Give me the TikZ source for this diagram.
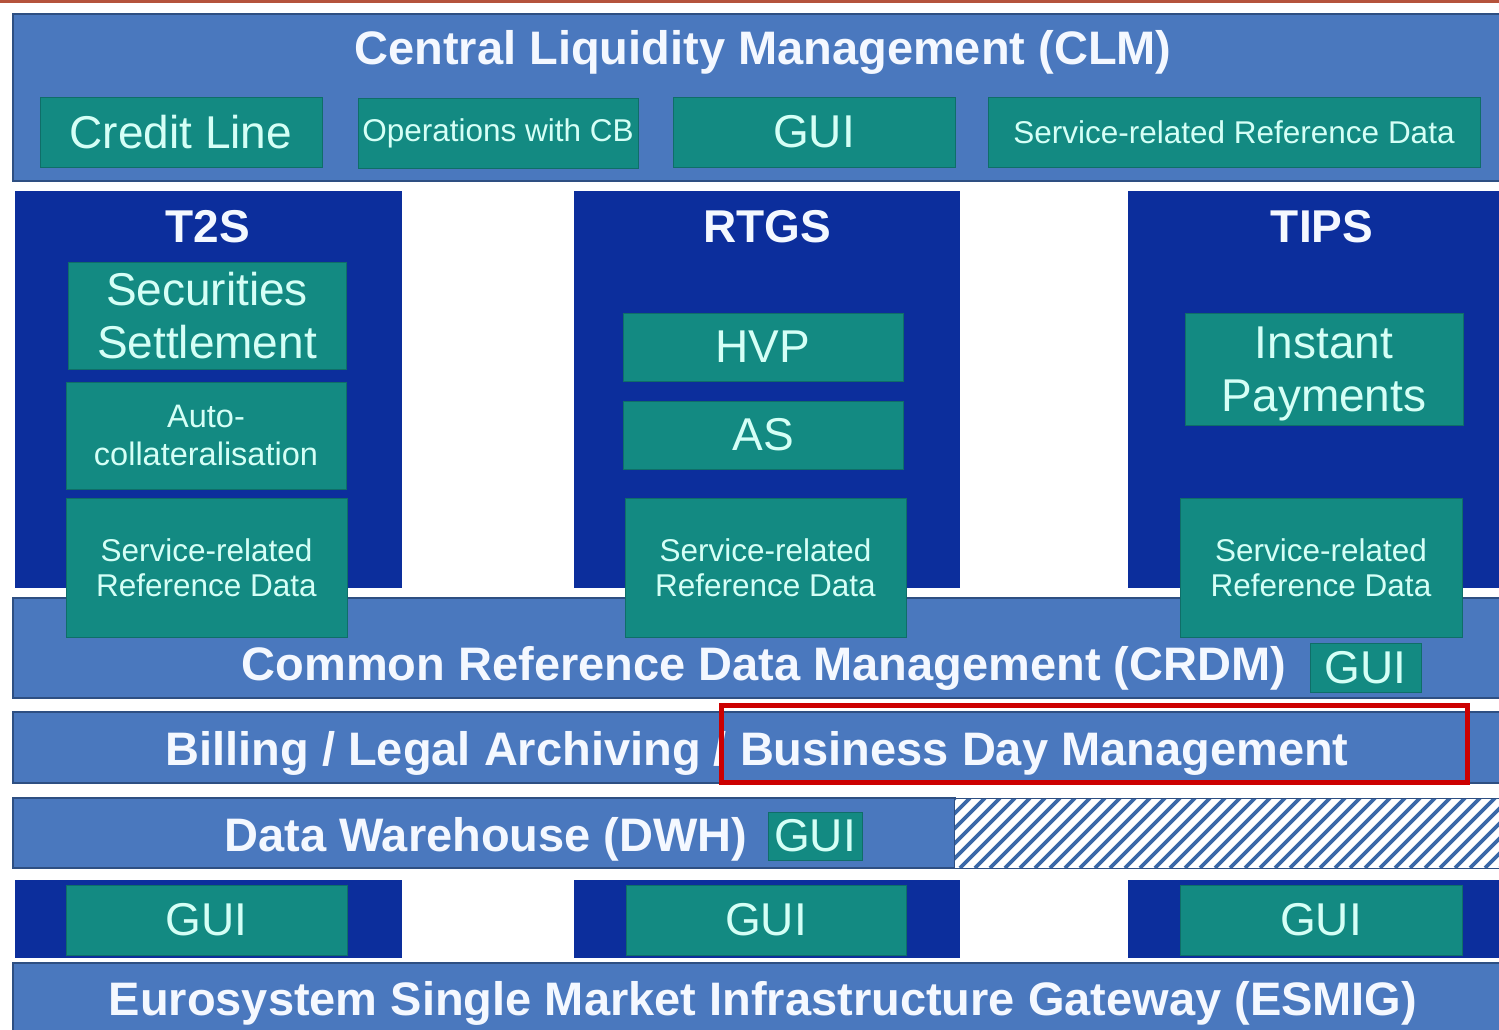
\documentclass[tikz,border=0pt]{standalone}
\usepackage{fontspec}
\setmainfont{Liberation Sans}
\definecolor{midblue}{HTML}{4A78BE}
\definecolor{navy}{HTML}{0C2E9C}
\definecolor{tealbox}{HTML}{138A82}
\definecolor{lighttxt}{HTML}{D5FFF6}
\definecolor{whitetxt}{HTML}{F4F8FF}
\definecolor{bandedge}{HTML}{2E4F82}
\definecolor{hatchblue}{HTML}{3A68A8}
\definecolor{topline}{HTML}{B5533C}
\definecolor{redframe}{HTML}{CC0000}
\begin{document}
\begin{tikzpicture}[x=1pt,y=-1pt,
  band/.style={fill=midblue,draw=bandedge,line width=1.2pt,inner sep=0pt,outer sep=0pt,anchor=center},
  sysbox/.style={fill=navy,draw=none,inner sep=0pt,outer sep=0pt},
  tbox/.style={fill=tealbox,draw=tealbox!80!black,line width=0.8pt,inner sep=0pt,outer sep=0pt,
    text=lighttxt,align=center},
  bigtxt/.style={font=\fontsize{46}{53}\selectfont},
  smalltxt/.style={font=\fontsize{31.5}{35}\selectfont},
  headtxt/.style={text=whitetxt,font=\fontsize{47}{52}\selectfont\bfseries,inner sep=0pt},
  titletxt/.style={text=whitetxt,font=\fontsize{46}{52}\selectfont\bfseries,inner sep=0pt}]
\useasboundingbox (0,0) rectangle (1499,1029);
\fill[white] (0,0) rectangle (1499,1029);
\fill[topline] (0,0) rectangle (1499,3);

% CLM
\node[band,minimum width=1492,minimum height=167] (clm) at (759,97.5) {};
\node[headtxt] (clmt) at (763,52) {Central Liquidity Management (CLM)};
\node[tbox,bigtxt,minimum width=282,minimum height=70] (credit) at (181,132) {Credit Line};
\node[tbox,smalltxt,minimum width=280,minimum height=70] (opcb) at (498,133) {Operations with CB};
\node[tbox,bigtxt,minimum width=282,minimum height=70] (clmgui) at (814,132) {GUI};
\node[tbox,smalltxt,minimum width=492,minimum height=70] (clmsrrd) at (1234,132) {Service-related Reference Data};

% system boxes
\node[sysbox,minimum width=387,minimum height=397] (t2s) at (208.5,389.5) {};
\node[sysbox,minimum width=386,minimum height=397] (rtgs) at (767,389.5) {};
\node[sysbox,minimum width=377,minimum height=397] (tips) at (1316.5,389.5) {};
\node[titletxt] (t2st) at (208,227) {T2S};
\node[titletxt] (rtgst) at (767,227) {RTGS};
\node[titletxt] (tipst) at (1322,227) {TIPS};

% CRDM band
\node[band,minimum width=1492,minimum height=100] (crdm) at (759,648) {};
\node[headtxt] (crdmt) at (764,668) {Common Reference Data Management (CRDM)};
\node[tbox,bigtxt,minimum width=111,minimum height=49] (crdmgui) at (1365.5,667.5) {GUI};

% T2S content
\node[tbox,bigtxt,minimum width=278,minimum height=107] (secset) at (207,315.5) {Securities\\Settlement};
\node[tbox,font=\fontsize{32.5}{38}\selectfont,minimum width=280,minimum height=107] (autocol) at (206,435.5) {Auto-\\collateralisation};
\node[tbox,smalltxt,minimum width=281,minimum height=139] (t2ssrrd) at (206.5,567.5) {Service-related\\Reference Data};

% RTGS content
\node[tbox,bigtxt,minimum width=280,minimum height=68] (hvp) at (763,347) {HVP};
\node[tbox,bigtxt,minimum width=280,minimum height=68] (as) at (763,435) {AS};
\node[tbox,smalltxt,minimum width=281,minimum height=139] (rtgssrrd) at (765.5,567.5) {Service-related\\Reference Data};

% TIPS content
\node[tbox,minimum width=278,minimum height=112] (instpay) at (1324,369) {};
\node[text=lighttxt,align=center,bigtxt,inner sep=0pt] (instpayt) at (1324,374) {Instant\\Payments};
\node[tbox,smalltxt,minimum width=282,minimum height=139] (tipssrrd) at (1321,567.5) {Service-related\\Reference Data};

% Billing band
\node[band,minimum width=1492,minimum height=71] (bill) at (759,747.5) {};
\node[headtxt] (billt) at (757,753) {Billing / Legal Archiving / Business Day Management};
\draw[redframe,line width=5pt] (721.5,705.5) rectangle (1467.5,782.5);

% DWH band
\node[band,minimum width=942,minimum height=70] (dwh) at (484,833) {};
\node[headtxt] (dwht) at (486,839) {Data Warehouse (DWH)};
\node[tbox,bigtxt,minimum width=94,minimum height=48] (dwhgui) at (815,836) {GUI};
\begin{scope}
  \clip (955,798) rectangle (1505,868);
  \fill[white] (955,798) rectangle (1505,868);
  \foreach \k in {0,...,42} {
    \draw[hatchblue,line width=3.8pt] ({885+15*\k},868) -- ({955+15*\k},798);
  }
\end{scope}
\draw[bandedge,line width=1pt] (955,798) -- (1505,798) (955,868) -- (1505,868);

% GUI row
\node[sysbox,minimum width=387,minimum height=78] (t2sg) at (208.5,919) {};
\node[sysbox,minimum width=386,minimum height=78] (rtgsg) at (767,919) {};
\node[sysbox,minimum width=377,minimum height=78] (tipsg) at (1316.5,919) {};
\node[tbox,bigtxt,minimum width=281,minimum height=70] (gui1) at (206.5,920) {GUI};
\node[tbox,bigtxt,minimum width=280,minimum height=70] (gui2) at (766,920) {GUI};
\node[tbox,bigtxt,minimum width=282,minimum height=70] (gui3) at (1321,920) {GUI};

% ESMIG
\node[band,minimum width=1492,minimum height=80] (esmig) at (759,1003) {};
\node[headtxt] (esmigt) at (763,1003) {Eurosystem Single Market Infrastructure Gateway (ESMIG)};
\end{tikzpicture}
\end{document}
